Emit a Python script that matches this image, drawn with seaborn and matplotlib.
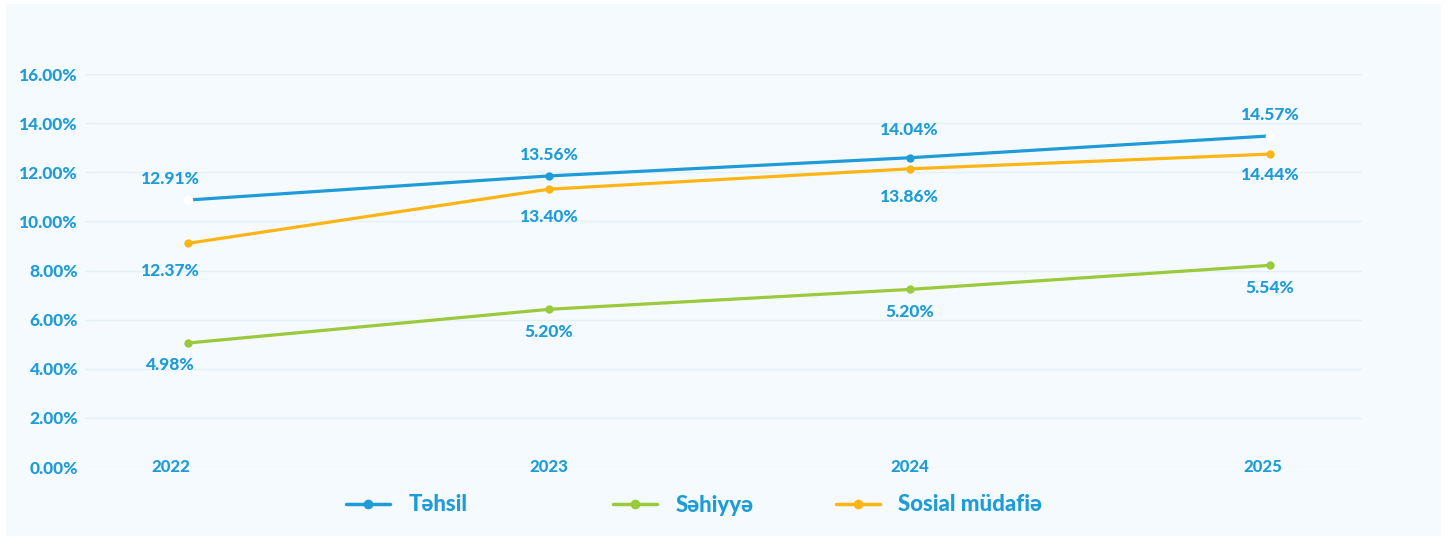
import matplotlib
matplotlib.use("Agg")
import matplotlib.pyplot as plt
from matplotlib.patches import Rectangle
from matplotlib.lines import Line2D
import seaborn as sns
import pandas as pd

# ---- data ----
years = ["2022", "2023", "2024", "2025"]
series_names = ["Təhsil", "Səhiyyə", "Sosial müdafiə"]
# plotted positions
tehsil_vals = [10.87, 11.85, 12.59, 13.48]
sehiyye_vals = [5.05, 6.42, 7.23, 8.21]
sosial_vals = [9.11, 11.31, 12.14, 12.74]
# data label texts shown on the chart
tehsil_labels = ["12.91%", "13.56%", "14.04%", "14.57%"]
sehiyye_labels = ["4.98%", "5.20%", "5.20%", "5.54%"]
sosial_labels = ["12.37%", "13.40%", "13.86%", "14.44%"]
y_ticks = [0, 2, 4, 6, 8, 10, 12, 14, 16]
y_tick_labels = ["0.00%", "2.00%", "4.00%", "6.00%", "8.00%", "10.00%", "12.00%", "14.00%", "16.00%"]

colors = {"Təhsil": "#1f9bd7", "Səhiyyə": "#9ac93b", "Sosial müdafiə": "#fdb515"}
text_color = "#1e9cd7"
W = "black"  # font weight

sns.set_theme(style="white")
plt.rcParams["font.family"] = ["Lato", "DejaVu Sans"]
plt.rcParams["font.weight"] = "bold"

rows = []
for name, vals in zip(series_names, [tehsil_vals, sehiyye_vals, sosial_vals]):
    for i, v in enumerate(vals):
        rows.append({"x": i, "value": v, "series": name})
df = pd.DataFrame(rows)

fig = plt.figure(figsize=(14.5, 5.37), dpi=100)
fig.patch.set_facecolor("white")
bg = Rectangle((6 / 1450, 1 - 536 / 537), (1441 - 6) / 1450, (536 - 4) / 537,
               transform=fig.transFigure, facecolor="#f5fafe", edgecolor="none", zorder=-5)
fig.patches.append(bg)

ax = fig.add_axes([85 / 1450, 1 - 467 / 537, (1362 - 85) / 1450, (467 - 74) / 537])
ax.set_facecolor("none")
ax.set_zorder(2)

sns.lineplot(data=df, x="x", y="value", hue="series", palette=colors, hue_order=series_names,
             marker="o", markersize=6, markeredgewidth=0, linewidth=2.3, ax=ax, legend=False,
             zorder=3)
# white end markers on the Təhsil line
ax.scatter([0, 3], [tehsil_vals[0], tehsil_vals[3]], s=48, color="white", zorder=4, linewidths=0)

ax.set_xlim(-0.287, 3.255)
ax.set_ylim(0, 16)
ax.set_yticks(y_ticks)
ax.set_yticklabels(y_tick_labels)
ax.set_xticks([])
ax.set_xlabel("")
ax.set_ylabel("")
ax.grid(axis="y", color="#e4f1f9", linewidth=1)
ax.set_axisbelow(True)
for s in ax.spines.values():
    s.set_visible(False)
ax.tick_params(axis="y", length=0, pad=5, labelsize=12.5, labelcolor=text_color)
for t in ax.get_yticklabels():
    t.set_fontweight(W)

# horizontal nudges of the label column (points)
col_shift = [-13, 0, 0, -5]

# year labels on the 0% line
for i, yr in enumerate(years):
    ax.annotate(yr, (i, 0), xytext=(col_shift[i], 0), textcoords="offset points",
                ha="center", va="center", fontsize=12, fontweight=W,
                color=text_color, annotation_clip=False)

# data labels
offsets = {"Təhsil": 15, "Səhiyyə": -16, "Sosial müdafiə": -20}
nudge = {("Təhsil", 2): 5, ("Sosial müdafiə", 3): 5}
for name, vals, labs in zip(series_names, [tehsil_vals, sehiyye_vals, sosial_vals],
                            [tehsil_labels, sehiyye_labels, sosial_labels]):
    for i, (v, lab) in enumerate(zip(vals, labs)):
        dy = offsets[name] + nudge.get((name, i), 0)
        dx = col_shift[i] if i == 0 else 0
        ax.annotate(lab, (i, v), xytext=(dx, dy), textcoords="offset points",
                    ha="center", va="center", fontsize=12.5, fontweight=W,
                    color=text_color, annotation_clip=False)

# legend: one entry per position, as in the reference
legend_x = [346, 613, 836]
for n, lx in zip(series_names, legend_x):
    h = Line2D([0], [0], color=colors[n], linewidth=2.5, marker="o", markersize=7,
               markeredgewidth=0)
    leg = fig.legend([h], [n], loc="center left", bbox_to_anchor=(lx / 1450, 1 - 505 / 537),
                     frameon=False, fontsize=16, handlelength=2.0, handletextpad=0.8,
                     borderaxespad=0, borderpad=0)
    for t in leg.get_texts():
        t.set_color(text_color)
        t.set_fontweight(W)

fig.savefig("out.png", dpi=100, facecolor=fig.get_facecolor())
